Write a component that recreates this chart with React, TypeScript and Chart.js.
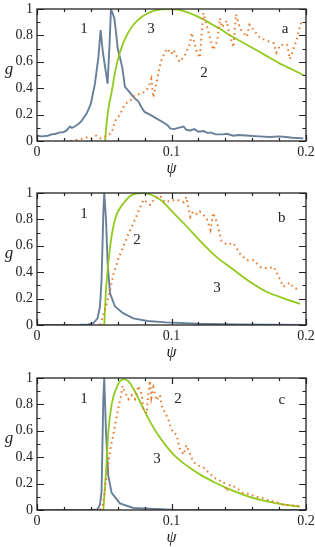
import React, { useEffect, useRef } from "react";
import { Chart, registerables } from "chart.js";

Chart.register(...registerables);

// ---------- data ----------
type P = [number, number];

const xTickLabels = ["0", "0.1", "0.2"];
const yTickLabels = ["0", "0.2", "0.4", "0.6", "0.8", "1"];
const xTickMarks = [0, 0.02, 0.04, 0.06, 0.08, 0.1, 0.12, 0.14, 0.16, 0.18, 0.2];
const xMajorMarks = [0, 0.1, 0.2];
const yTickMarks = [0, 0.1, 0.2, 0.3, 0.4, 0.5, 0.6, 0.7, 0.8, 0.9, 1];
const yMajorMarks = [0, 0.2, 0.4, 0.6, 0.8, 1];

// Panel a
const curveA1: P[] = [
  [0, 0.04], [0.0035, 0.035], [0.008, 0.04], [0.011, 0.05], [0.014, 0.055], [0.017, 0.065],
  [0.0195, 0.065], [0.022, 0.08], [0.0245, 0.11], [0.026, 0.1], [0.028, 0.11], [0.031, 0.13],
  [0.033, 0.15], [0.035, 0.18], [0.037, 0.21], [0.04, 0.28], [0.043, 0.43], [0.0456, 0.63],
  [0.0473, 0.84], [0.049, 0.67], [0.0525, 0.435], [0.054, 0.75], [0.055, 1.0], [0.0565, 0.96],
  [0.0575, 0.93], [0.059, 0.8], [0.06, 0.7], [0.062, 0.62], [0.0635, 0.55], [0.0654, 0.41],
  [0.068, 0.38], [0.0704, 0.35], [0.073, 0.32], [0.0753, 0.3], [0.078, 0.25], [0.08, 0.22],
  [0.084, 0.2], [0.089, 0.17], [0.094, 0.14], [0.097, 0.12], [0.099, 0.095], [0.102, 0.09],
  [0.105, 0.1], [0.109, 0.11], [0.111, 0.085], [0.114, 0.08], [0.117, 0.09], [0.12, 0.07],
  [0.124, 0.075], [0.127, 0.06], [0.129, 0.065], [0.133, 0.05], [0.138, 0.05], [0.141, 0.055],
  [0.146, 0.04], [0.15, 0.045], [0.158, 0.04], [0.165, 0.035], [0.173, 0.03], [0.18, 0.035],
  [0.185, 0.03], [0.19, 0.025], [0.198, 0.02],
];
const curveA2: P[] = [
  [0.025, 0.0], [0.03, 0.01], [0.035, 0.02], [0.038, 0.03], [0.041, 0.02], [0.044, 0.04],
  [0.047, 0.02], [0.05, 0.03], [0.0555, 0.06], [0.058, 0.15], [0.0617, 0.2], [0.0654, 0.28],
  [0.069, 0.3], [0.0729, 0.35], [0.0778, 0.36], [0.081, 0.38], [0.083, 0.41], [0.085, 0.47],
  [0.0865, 0.33], [0.088, 0.4], [0.09, 0.5], [0.092, 0.6], [0.0964, 0.7], [0.1, 0.66],
  [0.1014, 0.69], [0.106, 0.6], [0.11, 0.65], [0.1138, 0.74], [0.115, 0.82], [0.1187, 0.68],
  [0.121, 0.63], [0.1225, 0.82], [0.1237, 0.97], [0.126, 0.88], [0.131, 0.69], [0.134, 0.76],
  [0.136, 0.93], [0.1375, 0.86], [0.141, 0.91], [0.143, 0.81], [0.146, 0.71], [0.148, 0.96],
  [0.151, 0.85], [0.156, 0.79], [0.158, 0.88], [0.161, 0.84], [0.166, 0.78], [0.171, 0.76],
  [0.176, 0.74], [0.178, 0.67], [0.181, 0.73], [0.186, 0.73], [0.188, 0.62], [0.191, 0.71],
  [0.193, 0.76], [0.1955, 0.87], [0.197, 0.91],
];
const curveA3: P[] = [
  [0.0506, 0], [0.052, 0.16], [0.0535, 0.27], [0.0555, 0.37], [0.058, 0.52], [0.0605, 0.63],
  [0.064, 0.74], [0.068, 0.825], [0.0725, 0.89], [0.0778, 0.94], [0.083, 0.97], [0.0877, 0.99],
  [0.0976, 1.0], [0.105, 0.995], [0.112, 0.975], [0.118, 0.95], [0.124, 0.92], [0.13, 0.885],
  [0.136, 0.85], [0.142, 0.81], [0.148, 0.775], [0.155, 0.735], [0.162, 0.695], [0.168, 0.66],
  [0.174, 0.625], [0.18, 0.59], [0.186, 0.56], [0.192, 0.53], [0.198, 0.5],
];

// Panel b
const curveB1: P[] = [
  [0, 0], [0.03, 0], [0.038, 0.005], [0.042, 0.015], [0.045, 0.05], [0.0468, 0.14],
  [0.048, 0.34], [0.0493, 0.84], [0.05, 1.0], [0.0513, 0.8], [0.0525, 0.47], [0.0543, 0.24],
  [0.058, 0.14], [0.064, 0.09], [0.0716, 0.05], [0.082, 0.03], [0.096, 0.02], [0.12, 0.01],
  [0.15, 0.005], [0.2, 0.0],
];
const curveB2: P[] = [
  [0.047, 0], [0.0513, 0.14], [0.0543, 0.26], [0.0567, 0.38], [0.06, 0.49], [0.064, 0.59],
  [0.0675, 0.68], [0.0716, 0.77], [0.075, 0.85], [0.0792, 0.95], [0.084, 0.91], [0.0877, 0.96],
  [0.0914, 0.98], [0.095, 0.93], [0.0989, 0.94], [0.1038, 0.95], [0.109, 0.93], [0.111, 0.97],
  [0.114, 0.82], [0.116, 0.86], [0.119, 0.84], [0.121, 0.86], [0.126, 0.81], [0.129, 0.72],
  [0.131, 0.85], [0.134, 0.77], [0.137, 0.64], [0.141, 0.61], [0.146, 0.62], [0.151, 0.54],
  [0.156, 0.49], [0.161, 0.49], [0.166, 0.44], [0.171, 0.43], [0.176, 0.44], [0.181, 0.34],
  [0.183, 0.29], [0.188, 0.32], [0.191, 0.28], [0.1955, 0.27],
];
const curveB3: P[] = [
  [0.05, 0], [0.0513, 0.265], [0.0543, 0.59], [0.058, 0.8], [0.0642, 0.92], [0.0716, 0.99],
  [0.0792, 1.0], [0.0914, 0.95], [0.1014, 0.85], [0.111, 0.75], [0.121, 0.64], [0.133, 0.52],
  [0.146, 0.42], [0.158, 0.33], [0.171, 0.25], [0.184, 0.2], [0.1955, 0.16],
];

// Panel c
const curveC1: P[] = [
  [0, 0], [0.04, 0], [0.045, 0.005], [0.0468, 0.04], [0.048, 0.14], [0.0493, 0.84],
  [0.05, 1.0], [0.0513, 0.59], [0.053, 0.26], [0.0555, 0.13], [0.0617, 0.05], [0.0716, 0.015],
  [0.1, 0.003], [0.2, 0],
];
const curveC2: P[] = [
  [0.0468, 0], [0.049, 0.04], [0.0513, 0.22], [0.053, 0.34], [0.0543, 0.45], [0.0563, 0.55],
  [0.058, 0.64], [0.06, 0.75], [0.062, 0.84], [0.0637, 0.94], [0.0654, 0.89], [0.068, 0.84],
  [0.0703, 0.87], [0.0728, 0.84], [0.0753, 0.94], [0.0778, 0.88], [0.079, 0.77], [0.0815, 0.73],
  [0.083, 0.9], [0.084, 0.98], [0.085, 0.85], [0.0865, 0.93], [0.089, 0.83], [0.0914, 0.87],
  [0.0926, 0.79], [0.095, 0.74], [0.0976, 0.69], [0.099, 0.64], [0.101, 0.59], [0.1038, 0.57],
  [0.106, 0.47], [0.109, 0.42], [0.111, 0.49], [0.114, 0.42], [0.116, 0.37], [0.119, 0.34],
  [0.124, 0.32], [0.129, 0.27], [0.134, 0.23], [0.139, 0.21], [0.141, 0.14], [0.1435, 0.19],
  [0.148, 0.17], [0.153, 0.13], [0.158, 0.12], [0.163, 0.1], [0.168, 0.09], [0.173, 0.07],
  [0.178, 0.06], [0.183, 0.04], [0.188, 0.035], [0.1955, 0.03],
];
const curveC3: P[] = [
  [0.0493, 0], [0.0513, 0.29], [0.053, 0.59], [0.0555, 0.8], [0.0592, 0.93], [0.064, 0.99],
  [0.0675, 0.98], [0.0716, 0.92], [0.0766, 0.82], [0.084, 0.67], [0.09, 0.57], [0.0964, 0.48],
  [0.1025, 0.41], [0.1088, 0.355], [0.115, 0.31], [0.121, 0.27], [0.133, 0.205], [0.146, 0.145],
  [0.158, 0.1], [0.171, 0.065], [0.184, 0.04], [0.1955, 0.025],
];

// curve numbers and panel letters: [text, psi, g]
type L = [string, number, number];
const labelsA: L[] = [["1", 0.035, 0.85], ["3", 0.0848, 0.85], ["a", 0.1844, 0.85], ["2", 0.1242, 0.515]];
const labelsB: L[] = [["1", 0.035, 0.84], ["2", 0.0743, 0.644], ["3", 0.1338, 0.28], ["b", 0.182, 0.81]];
const labelsC: L[] = [["1", 0.035, 0.84], ["2", 0.1048, 0.84], ["3", 0.0892, 0.386], ["c", 0.182, 0.833]];

const panels = [
  { c1: curveA1, c2: curveA2, c3: curveA3, labels: labelsA, top: 0 },
  { c1: curveB1, c2: curveB2, c3: curveB3, labels: labelsB, top: 184 },
  { c1: curveC1, c2: curveC2, c3: curveC3, labels: labelsC, top: 369 },
];

// ---------- styles ----------
const BLUE = "#687f9a";
const GREEN = "#8fcb1c";
const ORANGE = "#ea7a2c";
const INK = "#222222";
const SERIF = '"Liberation Serif", "DejaVu Serif", serif';
const CANVAS_H = 178;

const toXY = (pts: P[]) => pts.map(([x, y]) => ({ x, y }));

const decorPlugin = {
  id: "decor",
  afterDraw(chart: any) {
    const opts = chart.options.plugins.decor;
    const { ctx, chartArea } = chart;
    const { left, right, top, bottom } = chartArea;
    const xs = chart.scales.x;
    const ys = chart.scales.y;
    ctx.save();
    ctx.strokeStyle = INK;
    ctx.lineWidth = 1.2;
    ctx.beginPath();
    for (const v of xTickMarks) {
      const px = Math.round(xs.getPixelForValue(v)) + 0.5;
      const len = xMajorMarks.some((m) => Math.abs(m - v) < 1e-9) ? 6 : 3;
      ctx.moveTo(px, bottom);
      ctx.lineTo(px, bottom - len);
      ctx.moveTo(px, top);
      ctx.lineTo(px, top + len);
    }
    for (const v of yTickMarks) {
      const py = Math.round(ys.getPixelForValue(v)) + 0.5;
      const len = yMajorMarks.some((m) => Math.abs(m - v) < 1e-9) ? 7 : 3.5;
      ctx.moveTo(left, py);
      ctx.lineTo(left + len, py);
      ctx.moveTo(right, py);
      ctx.lineTo(right - len, py);
    }
    ctx.stroke();
    ctx.lineWidth = 1.3;
    ctx.strokeRect(left, top, right - left, bottom - top);
    ctx.fillStyle = INK;
    ctx.font = `15px ${SERIF}`;
    ctx.textAlign = "center";
    ctx.textBaseline = "middle";
    for (const [t, x, y] of opts.labels as L[]) {
      ctx.fillText(t, xs.getPixelForValue(x), ys.getPixelForValue(y));
    }
    ctx.font = `italic 17px ${SERIF}`;
    ctx.fillText("g", 9, (top + bottom) / 2 - 5);
    ctx.restore();
  },
};

function Panel({ p }: { p: (typeof panels)[number] }) {
  const ref = useRef<HTMLCanvasElement | null>(null);
  useEffect(() => {
    if (!ref.current) return;
    const chart = new Chart(ref.current, {
      type: "line",
      data: {
        datasets: [
          {
            data: toXY(p.c1),
            borderColor: BLUE,
            borderWidth: 1.9,
            pointRadius: 0,
            tension: 0,
            order: 3,
          },
          {
            data: toXY(p.c2),
            borderColor: ORANGE,
            borderWidth: 2,
            borderDash: [1.6, 3.6],
            pointRadius: 0,
            tension: 0,
            order: 1,
          },
          {
            data: toXY(p.c3),
            borderColor: GREEN,
            borderWidth: 1.8,
            pointRadius: 0,
            cubicInterpolationMode: "monotone",
            order: 2,
          },
        ],
      },
      options: {
        animation: false,
        responsive: false,
        devicePixelRatio: 1,
        parsing: false,
        events: [],
        layout: { padding: { top: 9, right: 9, left: 0, bottom: 0 } },
        plugins: {
          legend: { display: false },
          tooltip: { enabled: false },
          decor: { labels: p.labels },
        } as any,
        scales: {
          x: {
            type: "linear",
            min: 0,
            max: 0.2,
            grid: { display: false, drawTicks: false },
            border: { display: false },
            ticks: {
              stepSize: 0.1,
              autoSkip: false,
              maxRotation: 0,
              padding: 3,
              color: INK,
              font: { family: SERIF, size: 14 },
              callback: (_v: any, i: number) => xTickLabels[i] ?? "",
            },
            title: {
              display: true,
              text: "ψ",
              color: INK,
              font: { family: SERIF, size: 16, style: "italic" },
              padding: { top: 0, bottom: 0 },
            },
            afterFit: (s: any) => {
              s.height = 37;
              s.paddingLeft = 0;
              s.paddingRight = 0;
            },
          },
          y: {
            type: "linear",
            min: 0,
            max: 1,
            grid: { display: false, drawTicks: false },
            border: { display: false },
            ticks: {
              stepSize: 0.2,
              autoSkip: false,
              padding: 4,
              color: INK,
              font: { family: SERIF, size: 14 },
              callback: (_v: any, i: number) => yTickLabels[i] ?? "",
            },
            afterFit: (s: any) => {
              s.width = 37;
              s.paddingTop = 0;
              s.paddingBottom = 0;
            },
          },
        },
      },
      plugins: [decorPlugin],
    } as any);
    return () => chart.destroy();
  }, [p]);
  return (
    <canvas
      ref={ref}
      width={315}
      height={CANVAS_H}
      style={{ position: "absolute", left: 0, top: p.top, width: 315, height: CANVAS_H }}
    />
  );
}

export default function App() {
  return (
    <div style={{ position: "fixed", left: 0, top: 0, width: 315, height: 547, background: "#fff", overflow: "hidden" }}>
      {panels.map((p, i) => (
        <Panel key={i} p={p} />
      ))}
    </div>
  );
}
